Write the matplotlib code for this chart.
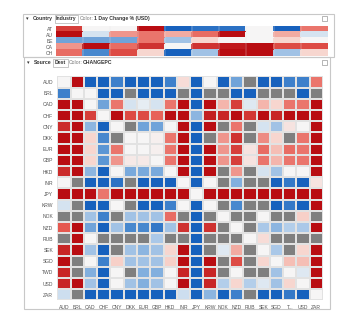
import matplotlib.pyplot as plt
import numpy as np
from matplotlib.colors import LinearSegmentedColormap, Normalize
from matplotlib.patches import Rectangle

plt.rcParams["font.family"] = ["Liberation Sans", "DejaVu Sans"]

nan = np.nan

# top panel: 1 day change % (USD) by country / industry
countries = ["AT", "AU", "BE", "CA", "CH"]
industry_change = [
    [2.2, 0, 0, 3, -3, -2.6, -2.6, 0, -3, 1.5],
    [3, -0.4, 1.2, 1.5, 1.0, 1.6, 3, 0, 1.0, -0.4],
    [-1.5, -1.5, -1.5, 1.5, -1.0, 0.5, 0, 0, 0.5, 0],
    [1.2, 3, 1.6, 2.4, 0, 2.4, 2.8, 3, 2.0, 2.0],
    [1.6, -2.0, 2.0, 0.5, -3, -1.0, 3, 3, -1.0, 0.5],
]

# bottom panel: currency change by source / dest
currencies = ["AUD", "BRL", "CAD", "CHF", "CNY", "DKK", "EUR", "GBP", "HKD", "INR",
              "JPY", "KRW", "NOK", "NZD", "RUB", "SEK", "SGD", "TWD", "USD", "ZAR"]
dest_labels = currencies[:17] + ["T...", "USD", "ZAR"]
changepc = [
    [0, 3, -3, -3, -2.2, -3, -3, -3, -2.2, 0.4, -3, 0, -3, -1.5, nan, -3, -3, -2.2, -2.2, 1.5],
    [-2.2, 0, 0, -3, -3, nan, -3, -3, -3, nan, -3, nan, nan, -3, -3, nan, nan, nan, -3, nan],
    [3, 3, 0, -1.5, 1.5, -0.4, -0.2, -0.4, 1.5, 3, -3, 3, 0.9, 2.2, -0.3, 0.9, 0.5, 1.5, 1.5, 3],
    [3, 3, 2.2, 0, 3, 2.0, 2.0, 1.7, 3, 3, -1.2, 2.7, 2.6, 3, 2.3, 3, 2.6, 3, 3, 3],
    [2.5, 3, -1.2, -3, 0, nan, -1.5, -1.5, 0, 3, -3, 3, nan, 1.5, nan, -0.4, -1.0, 0.3, 0, 3],
    [3, 3, 0.5, -2.0, nan, 0, 0, 0.1, 1.5, 3, -3, nan, 1.2, 2.4, nan, 1.3, 0.5, nan, 1.5, 3],
    [3, 3, 0.5, -1.7, 1.5, 0, 0, 0.1, 1.5, 3, -3, 3, 1.2, 2.2, 0.3, 1.6, 0.8, 1.6, 1.5, 3],
    [3, 3, 0.5, -1.7, 1.2, 0.2, 0.2, 0, 1.5, 3, -3, 3, 1.2, 2.2, 0.3, 1.5, 0.9, 1.5, 1.5, 3],
    [2.5, 3, -1.2, -3, 0, -1.4, -1.4, -1.4, 0, 3, -3, 3, nan, 1.2, nan, -0.4, -1.0, 0, 0, 3],
    [0, nan, -3, -3, -2.6, nan, -3, -3, -3, 0, -3, 0, nan, -1.3, nan, nan, -3, -2.4, -3, 0.3],
    [3, 3, 3, 1.5, 3, 3, 3, 3, 3, 3, 0, 3, 3, 3, 3, 3, 3, 3, 3, 3],
    [-0.4, nan, -3, -3, 0, nan, -3, -3, -2.2, 0, -3, 0, nan, -2.0, nan, nan, -3, -2.4, -3, 3],
    [nan, nan, -1.0, -2.2, nan, -1.0, -1.0, -1.0, 1.6, nan, -3, nan, 0, nan, nan, 0, nan, nan, 0.6, nan],
    [1.8, 3, -1.5, -3, -1.0, -2.0, -2.0, -2.4, -1.0, 2.4, -3, 2.4, nan, 0, nan, -0.9, -1.2, -0.8, -0.9, 3],
    [nan, 3, 0, nan, nan, nan, nan, -0.9, nan, nan, -3, nan, nan, nan, 0, 0.4, nan, nan, nan, nan],
    [2.6, 3, -1.0, -3, nan, -1.0, -1.2, -1.0, 0.5, 3, -3, nan, -0.3, 1.0, nan, 0, -0.9, nan, 0.5, 3],
    [3, nan, 0, -2.2, 0.6, -1.0, -1.0, -1.0, 0.6, 3, -3, 3, nan, 2.0, nan, 0.5, 0, 0.8, 0.8, 3],
    [2.6, nan, -1.3, -3, 0, nan, -1.3, -1.3, 0, 2.6, -3, 2.6, nan, 0, nan, nan, -1.0, 0, -0.3, 3],
    [2.6, 3, -1.0, -3, 0, -1.0, -1.3, -1.0, 0, 3, -3, 2.6, -0.8, 0.5, -0.8, -0.3, -1.0, 0.5, 0, 3],
    [-0.5, nan, -3, -3, -3, -3, -3, -3, -3, -0.5, -3, -1.2, -3, -2.2, nan, -3, -3, -2.4, -3, 0],
]

W, H = 355, 324
cmap = LinearSegmentedColormap.from_list("chg", [
    (0.0, "#1761bd"), (0.2, "#5290d2"), (0.38, "#bcd4ec"), (0.5, "#f6f6f6"),
    (0.62, "#f7c8bf"), (0.8, "#e5584f"), (1.0, "#b90d12")])
cmap.set_bad("#7f7f7f")
norm = Normalize(-3, 3)

fig = plt.figure(figsize=(W / 100, H / 100), dpi=100)
fig.patch.set_facecolor("white")


def px_axes(x0, y0, x1, y1, **kw):
    return fig.add_axes([x0 / W, 1 - y1 / H, (x1 - x0) / W, (y1 - y0) / H], **kw)


# panel frames and headers drawn on a full-figure overlay
bg = px_axes(0, 0, W, H)
bg.set_xlim(0, W)
bg.set_ylim(H, 0)
bg.axis("off")
bg.add_patch(Rectangle((22.5, 13.5), 311, 43.5, fill=False, ec="#c8c8c8", lw=0.8))
bg.add_patch(Rectangle((24, 57), 306, 252, fill=False, ec="#c8c8c8", lw=0.8))

fs = 3.7
txt = dict(fontsize=fs, va="center", color="#333333")
bg.text(26, 18.5, "\u25be", **txt)
bg.text(33, 18.5, "Country", fontweight="bold", **txt)
bg.add_patch(Rectangle((54.5, 14.5), 23, 8, fill=False, ec="#b0b0b0", lw=0.5))
bg.text(56, 18.5, "Industry", fontweight="bold", **txt)
bg.text(79.5, 18.5, "Color:", fontsize=fs, va="center", color="#777777")
bg.text(94, 18.5, "1 Day Change % (USD)", fontweight="bold", **txt)

bg.text(27, 62.5, "\u25be", **txt)
bg.text(34, 62.5, "Source", fontweight="bold", **txt)
bg.add_patch(Rectangle((52.5, 58.5), 15, 8, fill=False, ec="#b0b0b0", lw=0.5))
bg.text(54.5, 62.5, "Dest", fontweight="bold", **txt)
bg.text(69, 62.5, "Color:", fontsize=fs, va="center", color="#777777")
bg.text(83, 62.5, "CHANGEPC", fontweight="bold", **txt)

for yy in (15.5, 59.5):
    bg.add_patch(Rectangle((322, yy), 5, 5, fill=False, ec="#999999", lw=0.5))

# top heat map
ax1 = px_axes(56, 26, 328, 55.7)
top = np.array(industry_change, dtype=float)
ax1.pcolormesh(top, cmap=cmap, norm=norm, edgecolors="face", linewidth=0.1)
for xv in range(1, top.shape[1]):
    ax1.axvline(xv, color="#e8e8e8", lw=0.25)
ax1.set_xlim(0, top.shape[1])
ax1.set_ylim(top.shape[0], 0)
ax1.set_xticks([])
ax1.set_yticks(np.arange(len(countries)) + 0.5)
ax1.set_yticklabels(countries, fontsize=3.6, color="#555555")
ax1.tick_params(length=0, pad=2)
for s in ax1.spines.values():
    s.set_visible(False)

# bottom heat map
ax2 = px_axes(57.3, 76.4, 323, 300.4)
mat = np.ma.masked_invalid(np.array(changepc, dtype=float))
ax2.pcolormesh(mat, cmap=cmap, norm=norm, edgecolors="#e2e2e2", linewidth=0.2)
ax2.set_xlim(0, len(currencies))
ax2.set_ylim(len(currencies), 0)
ax2.set_xticks(np.arange(len(dest_labels)) + 0.5)
ax2.set_xticklabels(dest_labels, fontsize=3.6, color="#555555")
ax2.set_yticks(np.arange(len(currencies)) + 0.5)
ax2.set_yticklabels(currencies, fontsize=3.6, color="#555555")
ax2.tick_params(length=0, pad=3)
for s in ax2.spines.values():
    s.set_visible(False)

fig.savefig("out.png", dpi=100)
